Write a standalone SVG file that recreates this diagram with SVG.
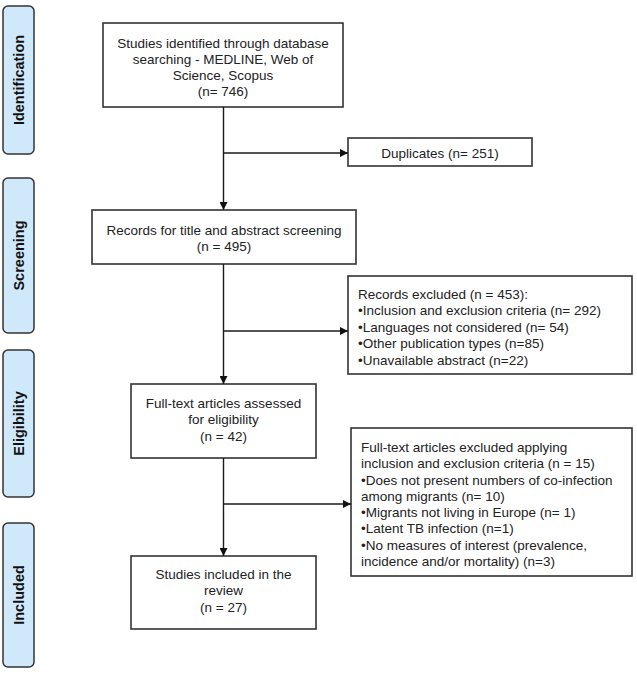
<svg xmlns="http://www.w3.org/2000/svg" width="637" height="676" viewBox="0 0 637 676">
<style>
.bg{fill:#ffffff}
.phase rect{fill:#cfe9fb;stroke:#333333;stroke-width:1.5}
.phase text{font-family:"Liberation Sans",Arial,sans-serif;font-size:14.5px;font-weight:bold;fill:#111;text-anchor:middle;dominant-baseline:central}
.box rect{fill:#ffffff;stroke:#333333;stroke-width:1.6}
.box text{font-family:"Liberation Sans",Arial,sans-serif;font-size:13.5px;fill:#222}
.c{text-anchor:middle}
.conn path{fill:none;stroke:#1a1a1a;stroke-width:1.4}
</style>
<defs>
<marker id="arr" viewBox="0 0 10 10" refX="10" refY="5" markerWidth="8" markerHeight="8" markerUnits="userSpaceOnUse" orient="auto">
<path d="M0,0 L10,5 L0,10 z" fill="#111"/>
</marker>
</defs>
<rect class="bg" x="0" y="0" width="637" height="676"/>

<g id="phase-identification" class="phase"><rect x="3" y="6" width="31" height="148" rx="5"/><text transform="translate(19,80) rotate(-90)">Identification</text></g>
<g id="phase-screening" class="phase"><rect x="3" y="178" width="31" height="155" rx="5"/><text transform="translate(19,255.5) rotate(-90)">Screening</text></g>
<g id="phase-eligibility" class="phase"><rect x="3" y="350" width="31" height="147" rx="5"/><text transform="translate(19,423.5) rotate(-90)">Eligibility</text></g>
<g id="phase-included" class="phase"><rect x="3" y="523" width="31" height="144" rx="5"/><text transform="translate(19,595) rotate(-90)">Included</text></g>

<g id="identified" class="box"><rect x="103" y="23" width="240" height="84"/>
<text class="c" x="223" y="47.5">Studies identified through database</text>
<text class="c" x="223" y="63.5">searching - MEDLINE, Web of</text>
<text class="c" x="223" y="79.5">Science, Scopus</text>
<text class="c" x="223" y="95.5">(n= 746)</text></g>

<g id="duplicates" class="box"><rect x="348" y="138" width="184" height="28"/>
<text class="c" x="440" y="157.5">Duplicates (n= 251)</text></g>

<g id="screening" class="box"><rect x="92" y="210" width="264" height="54"/>
<text class="c" x="224" y="234.5">Records for title and abstract screening</text>
<text class="c" x="224" y="250.5">(n = 495)</text></g>

<g id="excluded-records" class="box"><rect x="348" y="276" width="284" height="98"/>
<text x="358" y="298.5">Records excluded (n = 453):</text>
<text x="358" y="315">•Inclusion and exclusion criteria (n= 292)</text>
<text x="358" y="331.5">•Languages not considered (n= 54)</text>
<text x="358" y="348">•Other publication types (n=85)</text>
<text x="358" y="364.5">•Unavailable abstract (n=22)</text></g>

<g id="fulltext" class="box"><rect x="131" y="384" width="185" height="74"/>
<text class="c" x="223.5" y="407.5">Full-text articles assessed</text>
<text class="c" x="223.5" y="423.5">for eligibility</text>
<text class="c" x="223.5" y="440.5">(n = 42)</text></g>

<g id="excluded-fulltext" class="box"><rect x="351" y="428" width="281" height="148"/>
<text x="361" y="451.5">Full-text articles excluded applying</text>
<text x="361" y="468">inclusion and exclusion criteria (n = 15)</text>
<text x="361" y="484.5">•Does not present numbers of co-infection</text>
<text x="361" y="500.5">among migrants (n= 10)</text>
<text x="361" y="517">•Migrants not living in Europe (n= 1)</text>
<text x="361" y="533">•Latent TB infection (n=1)</text>
<text x="361" y="549.5">•No measures of interest (prevalence,</text>
<text x="361" y="566">incidence and/or mortality) (n=3)</text></g>

<g id="included" class="box"><rect x="131" y="556" width="185" height="73"/>
<text class="c" x="223.5" y="578.5">Studies included in the</text>
<text class="c" x="223.5" y="595">review</text>
<text class="c" x="223.5" y="611.5">(n = 27)</text></g>

<g id="connectors" class="conn">
<path d="M223.5,107 V210" marker-end="url(#arr)"/>
<path d="M223.5,153 H348" marker-end="url(#arr)"/>
<path d="M223.5,264 V384" marker-end="url(#arr)"/>
<path d="M223.5,331 H348" marker-end="url(#arr)"/>
<path d="M223.5,458 V556" marker-end="url(#arr)"/>
<path d="M223.5,504 H351" marker-end="url(#arr)"/>
</g>
</svg>
